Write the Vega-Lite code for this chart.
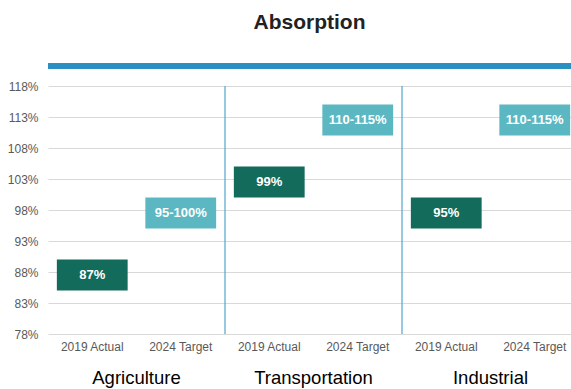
{
  "$schema": "https://vega.github.io/schema/vega-lite/v6.json",
  "width": 523,
  "height": 248,
  "autosize": {"type": "none"},
  "padding": {"left": 48, "top": 86, "right": 0, "bottom": 55},
  "config": {
    "font": "Liberation Sans",
    "view": {"stroke": null},
    "axisY": {
      "title": null,
      "grid": true,
      "gridColor": "#d9d9d9",
      "gridWidth": 1,
      "domain": false,
      "ticks": false,
      "tickSize": 0,
      "labelPadding": 10,
      "labelFontSize": 12,
      "labelColor": "#595959",
      "labelOverlap": false
    }
  },
  "title": {
    "text": "Absorption",
    "fontSize": 21,
    "fontWeight": "bold",
    "color": "#222222",
    "anchor": "middle",
    "offset": 30
  },
  "data": {
    "values": [
      {"cat": "Agriculture|2019 Actual", "group": "Agriculture", "series": "2019 Actual", "low": 85, "high": 90, "label": "87%"},
      {"cat": "Agriculture|2024 Target", "group": "Agriculture", "series": "2024 Target", "low": 95, "high": 100, "label": "95-100%"},
      {"cat": "Transportation|2019 Actual", "group": "Transportation", "series": "2019 Actual", "low": 100, "high": 105, "label": "99%"},
      {"cat": "Transportation|2024 Target", "group": "Transportation", "series": "2024 Target", "low": 110, "high": 115, "label": "110-115%"},
      {"cat": "Industrial|2019 Actual", "group": "Industrial", "series": "2019 Actual", "low": 95, "high": 100, "label": "95%"},
      {"cat": "Industrial|2024 Target", "group": "Industrial", "series": "2024 Target", "low": 110, "high": 115, "label": "110-115%"}
    ]
  },
  "encoding": {
    "x": {
      "field": "cat",
      "type": "nominal",
      "sort": ["Agriculture|2019 Actual", "Agriculture|2024 Target", "Transportation|2019 Actual", "Transportation|2024 Target", "Industrial|2019 Actual", "Industrial|2024 Target"],
      "scale": {"range": [0, 531], "paddingInner": 0, "paddingOuter": 0},
      "axis": {
        "title": null,
        "labelExpr": "split(datum.label, '|')[1]",
        "labelAngle": 0,
        "domain": false,
        "ticks": false,
        "tickSize": 0,
        "labelPadding": 7,
        "labelFontSize": 12,
        "labelColor": "#595959",
        "grid": false
      }
    },
    "y": {
      "field": "low",
      "type": "quantitative",
      "scale": {"domain": [78, 118], "nice": false, "zero": false},
      "axis": {
        "values": [78, 83, 88, 93, 98, 103, 108, 113, 118],
        "labelExpr": "datum.value + '%'"
      }
    }
  },
  "layer": [
    {
      "mark": {"type": "rule", "color": "#2b8fc1", "strokeWidth": 5.5},
      "encoding": {
        "x": null,
        "y": {
          "datum": 121.2,
          "type": "quantitative",
          "axis": {
            "values": [78, 83, 88, 93, 98, 103, 108, 113, 118],
            "labelExpr": "datum.value + '%'"
          }
        }
      }
    },
    {
      "transform": [{"filter": "datum.group != 'Agriculture' && datum.series == '2019 Actual'"}],
      "mark": {"type": "rule", "color": "#4da6cc", "strokeWidth": 1.2},
      "encoding": {
        "x": {"field": "cat", "type": "nominal", "sort": ["Agriculture|2019 Actual", "Agriculture|2024 Target", "Transportation|2019 Actual", "Transportation|2024 Target", "Industrial|2019 Actual", "Industrial|2024 Target"], "bandPosition": 0},
        "y": {
          "datum": 118,
          "type": "quantitative",
          "axis": {
            "values": [78, 83, 88, 93, 98, 103, 108, 113, 118],
            "labelExpr": "datum.value + '%'"
          }
        },
        "y2": {"datum": 78}
      }
    },
    {
      "mark": {"type": "bar", "width": {"band": 0.8}},
      "encoding": {
        "y2": {"field": "high"},
        "color": {
          "field": "series",
          "type": "nominal",
          "scale": {"domain": ["2019 Actual", "2024 Target"], "range": ["#136b5b", "#5bb8c2"]},
          "legend": null
        }
      }
    },
    {
      "transform": [{"calculate": "(datum.low + datum.high) / 2", "as": "mid"}],
      "mark": {"type": "text", "color": "white", "fontWeight": "bold", "fontSize": 13, "baseline": "middle", "align": "center"},
      "encoding": {
        "y": {
          "field": "mid",
          "type": "quantitative",
          "axis": {
            "values": [78, 83, 88, 93, 98, 103, 108, 113, 118],
            "labelExpr": "datum.value + '%'"
          }
        },
        "text": {"field": "label"}
      }
    },
    {
      "transform": [{"filter": "datum.series == '2019 Actual'"}],
      "mark": {"type": "text", "color": "#000000", "fontSize": 18.5, "baseline": "middle", "align": "center", "dy": 44},
      "encoding": {
        "x": {"field": "cat", "type": "nominal", "sort": ["Agriculture|2019 Actual", "Agriculture|2024 Target", "Transportation|2019 Actual", "Transportation|2024 Target", "Industrial|2019 Actual", "Industrial|2024 Target"], "bandPosition": 1},
        "y": {
          "datum": 78,
          "type": "quantitative",
          "axis": {
            "values": [78, 83, 88, 93, 98, 103, 108, 113, 118],
            "labelExpr": "datum.value + '%'"
          }
        },
        "text": {"field": "group"}
      }
    }
  ]
}
